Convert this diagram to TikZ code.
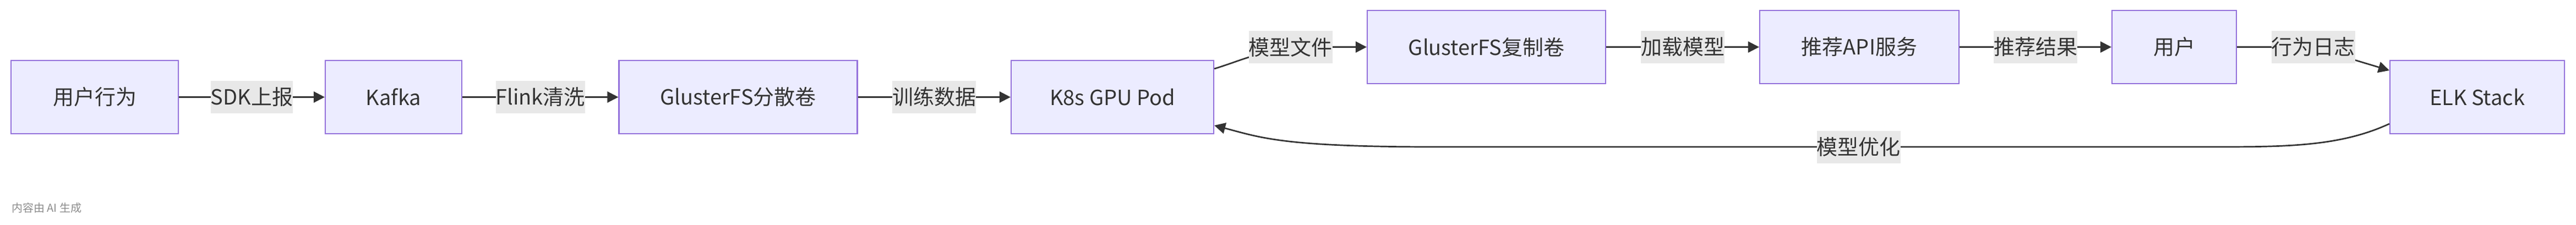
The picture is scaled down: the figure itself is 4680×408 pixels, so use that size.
\documentclass[tikz,border=0pt]{standalone}
\usepackage{fontspec}
\setmainfont{Noto Sans CJK SC}
\usetikzlibrary{arrows.meta,calc}
\definecolor{nodefill}{HTML}{ECECFF}
\definecolor{nodedraw}{HTML}{9370DB}
\definecolor{edgecol}{HTML}{333333}
\definecolor{lblbg}{HTML}{E8E8E8}
\definecolor{notecol}{HTML}{8C8C8C}
\begin{document}
\begin{tikzpicture}[x=1pt,y=-1pt,
  box/.style={draw=nodedraw,fill=nodefill,line width=2.2pt,inner sep=0pt,text=edgecol,
    font=\fontsize{38}{46}\selectfont,minimum height=133pt},
  lbl/.style={fill=lblbg,inner xsep=0pt,inner ysep=0pt,minimum height=59pt,text=edgecol,
    font=\fontsize{38}{46}\selectfont},
  conn/.style={draw=edgecol,line width=2.7pt,-{Triangle[length=20pt,width=20pt]}},
  note/.style={text=notecol,font=\fontsize{20}{24}\selectfont,inner sep=0pt,anchor=west}]
\useasboundingbox (0,0) rectangle (4680,408);
% nodes
\node[box,minimum width=304pt] (n1) at (172,176.5) {用户行为};
\node[box,minimum width=248pt] (n2) at (715,176.5) {Kafka};
\node[box,minimum width=433pt] (n3) at (1341,176.5) {GlusterFS分散卷};
\node[box,minimum width=368pt] (n4) at (2021,176.5) {K8s GPU Pod};
\node[box,minimum width=433pt] (n5) at (2700.5,85.5) {GlusterFS复制卷};
\node[box,minimum width=362pt] (n6) at (3378,85.5) {推荐API服务};
\node[box,minimum width=226pt] (n7) at (3950,85.5) {用户};
\node[box,minimum width=317pt] (n8) at (4500.5,176.5) {ELK Stack};
% straight edges
\draw[conn] (n1) -- node[lbl] (l1) {SDK上报} (n2);
\draw[conn] (n2) -- node[lbl] (l2) {Flink清洗} (n3);
\draw[conn] (n3) -- node[lbl] (l3) {训练数据} (n4);
\draw[conn] (n5) -- node[lbl] (l5) {加载模型} (n6);
\draw[conn] (n6) -- node[lbl] (l6) {推荐结果} (n7);
% curved edges
\draw[conn] ($(n4.east)+(0,-51.5)$) .. controls (2265,107) and (2300,85.5) .. (2400,85.5) -- (n5.west);
\node[lbl] (l4) at (2344.5,85.5) {模型文件};
\draw[conn] (n7.east) -- (4124,85.5) .. controls (4200,85.5) and (4240,98) .. (4281,110) -- ($(n8.west)+(0,-48.5)$);
\node[lbl] (l7) at (4202.5,85.5) {行为日志};
\draw[conn] ($(n8.west)+(0,48.5)$) .. controls (4250,267) and (4150,267) .. (4016,267) -- (2606,267)
  .. controls (2330,267) and (2290,250) .. ($(n4.east)+(0,51.5)$);
\node[lbl] (l8) at (3376.5,267) {模型优化};
% footnote
\node[note] (fn) at (21,378) {内容由 AI 生成};
\end{tikzpicture}
\end{document}
